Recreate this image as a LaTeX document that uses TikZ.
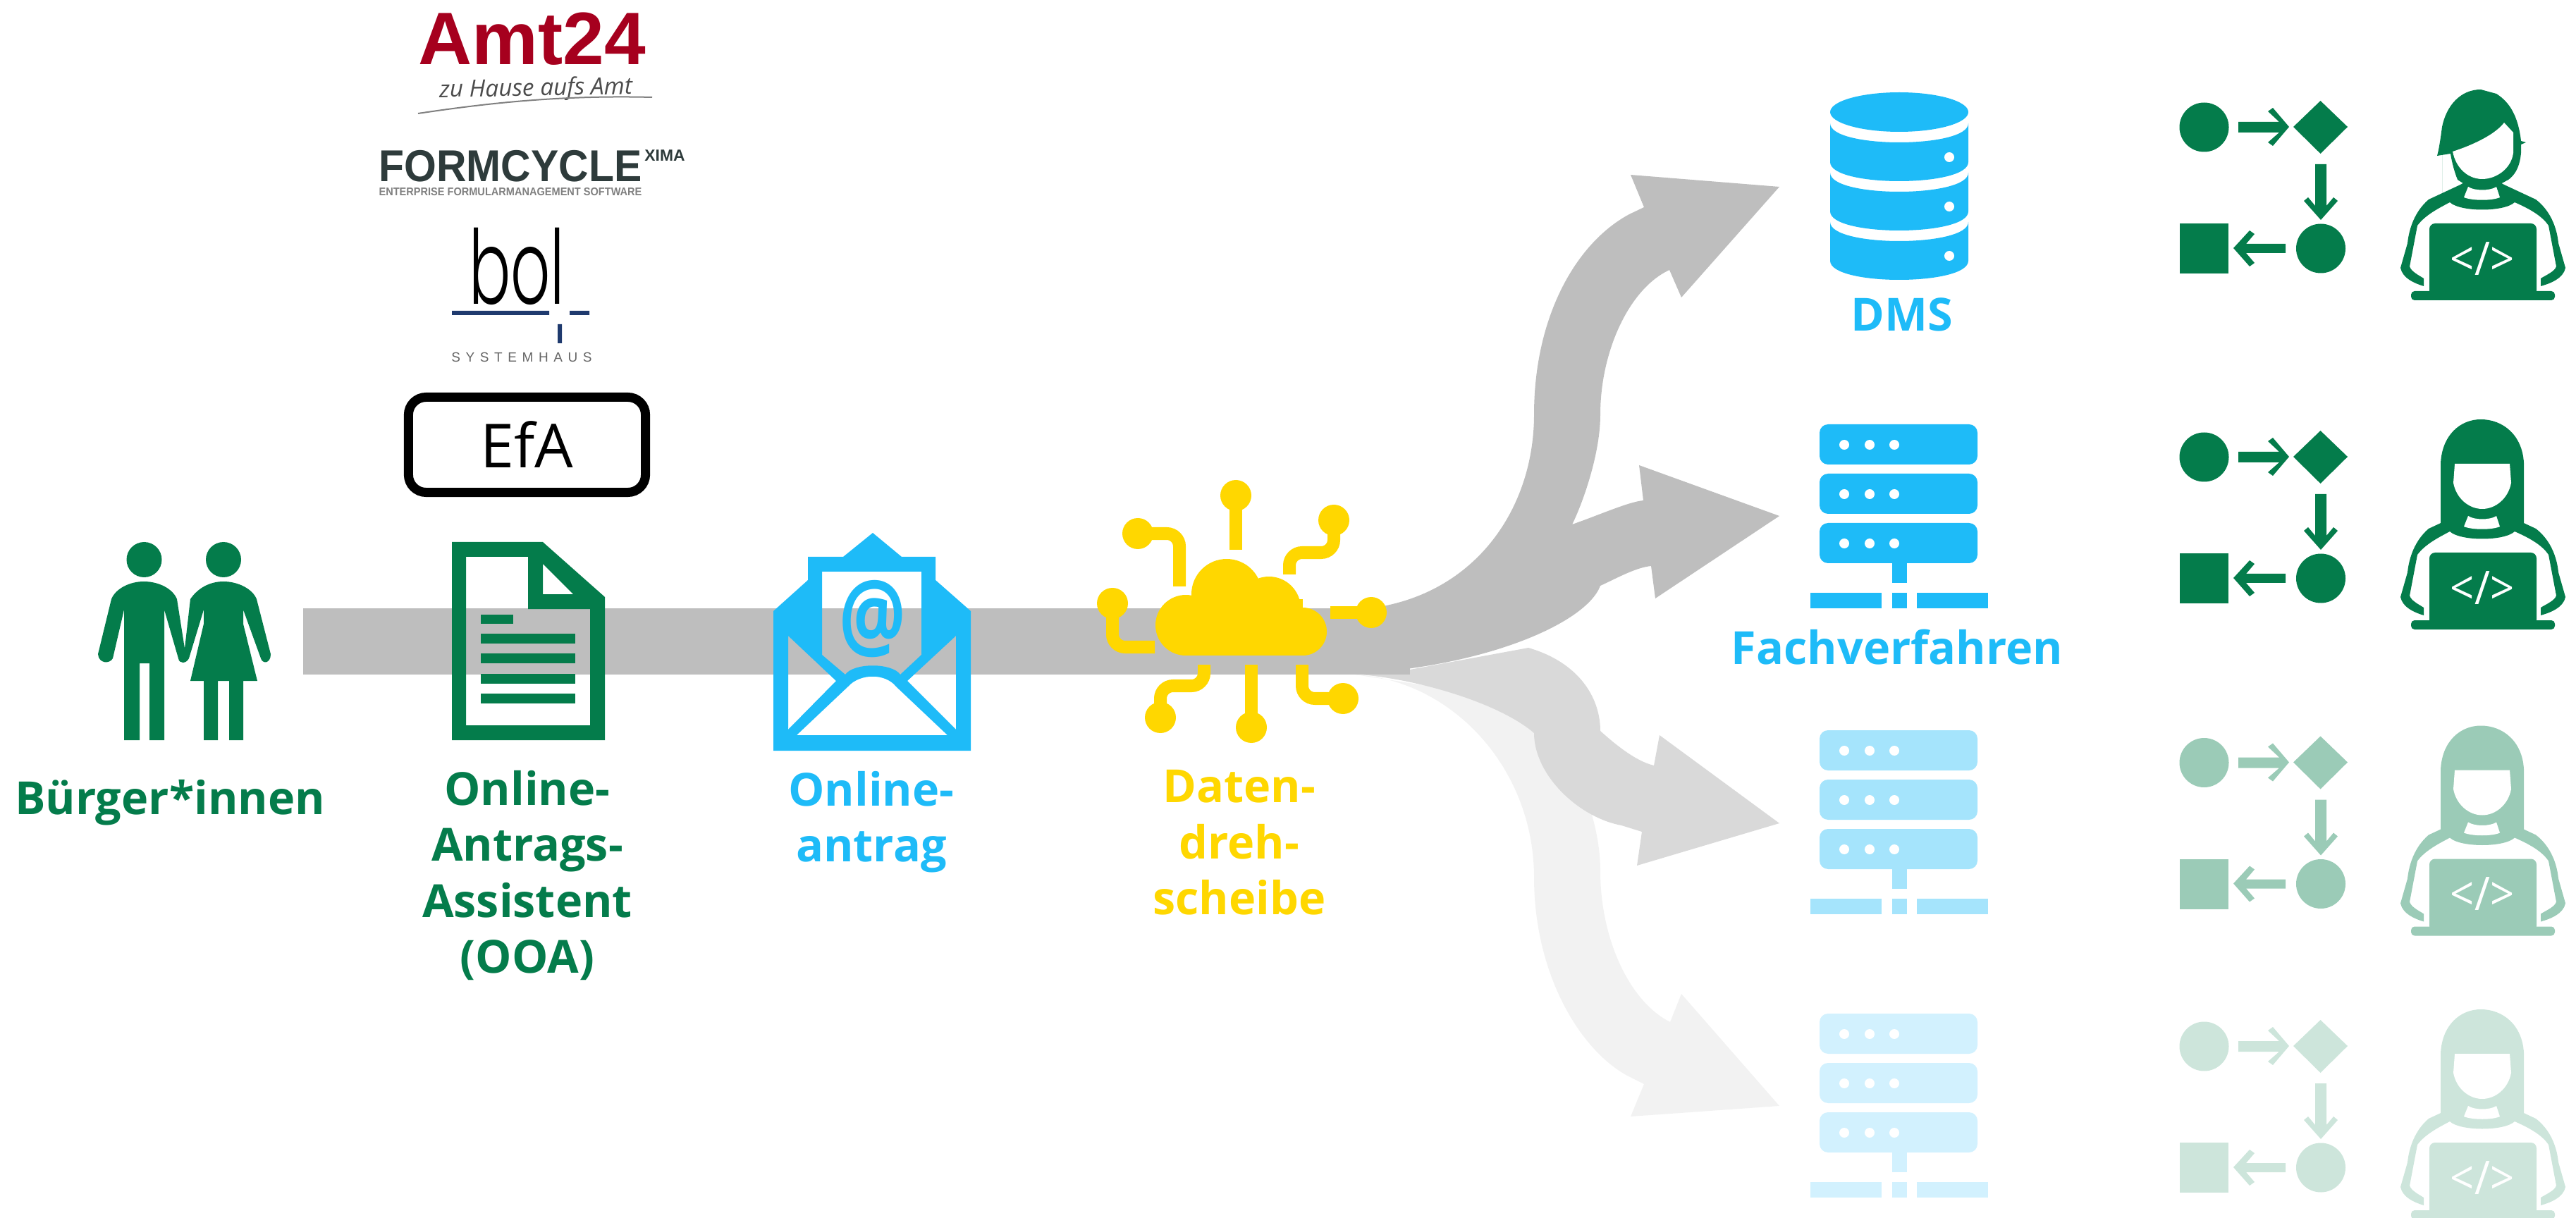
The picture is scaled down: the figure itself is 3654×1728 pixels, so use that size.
\documentclass[tikz,border=0pt]{standalone}
\usepackage{fontspec}
\setmainfont{Open Sans}
\newfontfamily\arialfont{Liberation Sans}
\newfontfamily\bolfont{Poppins Light}
\definecolor{gruen}{HTML}{047C4B}
\definecolor{blau}{HTML}{1EBBF8}
\definecolor{gelb}{HTML}{FFD700}
\definecolor{grau}{HTML}{BEBEBE}
\definecolor{rot}{HTML}{A6001E}
\definecolor{dunkel}{HTML}{2E3B3B}
\definecolor{marine}{HTML}{1F3A6E}
\tikzstyle{lbl}=[font=\fontsize{18.4}{22.5}\selectfont\bfseries,align=center,anchor=north,inner sep=0pt]
\tikzstyle{bein}=[draw=gelb,line width=.18cm,rounded corners=.18cm]

% server, #1 shift in y, #2 colour
\newcommand{\serverbox}[2]{
\begin{scope}[yshift=-#1*.01cm]
\foreach \t in {602,672,742} {
  \fill[#2,rounded corners=.12cm] (2581,\t) rectangle (2805,\t+57);
  \foreach \u in {2616,2652,2687} \fill[white] (\u,\t+29) circle[radius=7];
}
\fill[#2] (2684,799) rectangle (2705,827);
\fill[#2] (2568,841) rectangle (2669,863);
\fill[#2] (2684,841) rectangle (2705,863);
\fill[#2] (2719,841) rectangle (2820,863);
\end{scope}
}
% flow chart, #1 shift in y, #2 colour
\newcommand{\ablauf}[2]{
\begin{scope}[yshift=-#1*.01cm]
\fill[#2] (3126.5,180.5) circle[radius=35];
\fill[#2] (3253,180) -- (3291.5,143) -- (3330,180) -- (3291.5,218) -- cycle;
\fill[#2] (3292,352.5) circle[radius=35];
\fill[#2] (3092,317) rectangle (3161,388);
\fill[#2] (3175,173) -- (3233,173) -- (3217,158) -- (3224,153) -- (3247,180) -- (3224,207) -- (3217,202) -- (3233,188) -- (3175,188) -- cycle;
\fill[#2] (3284,233) -- (3300,233) -- (3300,292) -- (3310,280) -- (3316,285) -- (3292,312) -- (3268,285) -- (3274,280) -- (3284,292) -- cycle;
\fill[#2] (3242,346) -- (3186,346) -- (3198,332) -- (3191,327) -- (3168,352) -- (3191,378) -- (3198,373) -- (3186,359) -- (3242,359) -- cycle;
\end{scope}
}
% torso and laptop, #1 shift in y, #2 colour
\newcommand{\koerper}[2]{
\begin{scope}[yshift=-#1*.01cm]
\fill[#2] (3497,258) -- (3490,262) -- (3445,283) .. controls (3425,300) and (3417,325) .. (3415,345) -- (3405,380) .. controls (3408,395) and (3425,402) .. (3438,406) -- (3438,395) .. controls (3430,390) and (3420,385) .. (3418,378) -- (3429,320) .. controls (3440,305) and (3460,295) .. (3475,287) .. controls (3490,301) and (3552,301) .. (3567,287) .. controls (3585,295) and (3605,305) .. (3615,320) -- (3626,378) .. controls (3624,385) and (3612,390) .. (3604,395) -- (3604,406) .. controls (3618,402) and (3636,395) .. (3639,380) -- (3629,345) .. controls (3627,325) and (3619,300) .. (3597,283) -- (3552,262) -- (3545,258) -- cycle;
\fill[white] (3501,265) .. controls (3510,271) and (3532,271) .. (3541,265) -- (3546,280) .. controls (3535,285) and (3507,285) .. (3495,280) -- cycle;
\fill[#2,rounded corners=.08cm] (3446,317) rectangle (3598,420);
\fill[#2,rounded corners=.05cm] (3420,413) rectangle (3624,426);
\node[font=\fontsize{17}{17}\selectfont,yscale=1.1,text=white,inner sep=0pt] (code#1) at (3521,367) {</>};
\end{scope}
}
% long hair, #1 shift in y, #2 colour
\newcommand{\haare}[2]{
\begin{scope}[yshift=-#1*.01cm]
\fill[#2] (3462,280) -- (3462,190) .. controls (3464,150) and (3490,128) .. (3519,128) .. controls (3550,128) and (3578,150) .. (3580,190) -- (3580,280) -- (3560,285) -- (3545,262) -- (3497,262) -- (3482,285) -- cycle;
\fill[white] (3482,191) -- (3560,191) -- (3562,218) .. controls (3558,240) and (3540,255) .. (3521,255) .. controls (3502,255) and (3484,240) .. (3480,218) -- cycle;
\end{scope}
}

\begin{document}
\begin{tikzpicture}[x=.01cm,y=-.01cm]
\useasboundingbox (0,0) rectangle (3654,1728);
% grey flows
\fill[black!5] (1922,957) .. controls (2060,965) and (2176,1090) .. (2176,1245) .. controls (2176,1380) and (2240,1490) .. (2310,1527) -- (2332,1538) -- (2313,1584) -- (2524,1569) -- (2385,1410) -- (2369,1450) .. controls (2310,1420) and (2270,1330) .. (2270,1236) .. controls (2270,1200) and (2262,1170) .. (2257,1152) -- (2200,1000) -- cycle;
\fill[black!15] (2000,950) -- (2168,919) .. controls (2240,940) and (2270,990) .. (2270,1037) .. controls (2290,1055) and (2320,1080) .. (2346,1086) -- (2354,1043) -- (2524,1168) -- (2322,1228) -- (2329,1180) -- (2300,1171) .. controls (2240,1160) and (2176,1100) .. (2176,1040) .. controls (2130,1000) and (2020,965) .. (1930,957) -- cycle;
\fill[grau] (1950,862) .. controls (2095,840) and (2176,720) .. (2176,588) .. controls (2176,450) and (2235,345) .. (2311,304) -- (2332,294) -- (2313,248) -- (2524,265) -- (2385,422) -- (2368,383) .. controls (2310,410) and (2270,500) .. (2270,588) .. controls (2270,650) and (2240,725) .. (2230,744) .. controls (2270,730) and (2310,712) .. (2331,710) -- (2325,660) -- (2524,732) -- (2348,849) -- (2342,803) .. controls (2320,805) and (2290,822) .. (2270,831) .. controls (2250,885) and (2100,950) .. (1900,957) -- cycle;
\fill[grau] (430,863) rectangle (2000,957);
% citizens
\fill[gruen] (204.5,794) circle[radius=25] (317,794) circle[radius=25];
\fill[gruen] (204,825) .. controls (225,825) and (245,835) .. (251,850) -- (262,920) -- (270,850) .. controls (280,835) and (297,825) .. (317,825) .. controls (337,825) and (358,835) .. (364,850) -- (384,928) .. controls (384,942) and (372,942) .. (370,934) -- (345,865) -- (345,885) -- (365,966) -- (345,966) -- (345,1050) -- (325,1050) -- (325,966) -- (309,966) -- (309,1050) -- (289,1050) -- (289,966) -- (270,966) -- (289,885) -- (289,865) -- (268,934) .. controls (264,942) and (254,942) .. (253,934) -- (233,865) -- (233,1050) -- (212,1050) -- (212,941) -- (198,941) -- (198,1050) -- (176,1050) -- (176,865) -- (160,934) .. controls (156,942) and (140,942) .. (139,928) -- (158,850) .. controls (164,835) and (184,825) .. (204,825) -- cycle;
\node[lbl,text=gruen] (buerger) at (241,1106) {Bürger*innen};
% form
\fill[gruen,even odd rule] (641,769) -- (770,769) -- (858,847) -- (858,1050) -- (641,1050) -- cycle (661,790) -- (749,790) -- (749,864) -- (837,864) -- (837,1029) -- (661,1029) -- cycle (770,800) -- (770,843) -- (813,843) -- cycle;
\fill[gruen] (682,872) rectangle (728,885);
\foreach \z in {899,927,956,984} \fill[gruen] (682,\z) rectangle (816,\z+14);
\node[lbl,text=gruen] (ooa) at (748,1093) {Online-\\Antrags-\\Assistent\\(OOA)};
% mail
\fill[blau,even odd rule] (1238,756) -- (1279,790) -- (1327,790) -- (1327,823) -- (1377,867) -- (1377,1065) -- (1097,1065) -- (1097,867) -- (1146,823) -- (1146,790) -- (1196,790) -- cycle
 (1166,811) -- (1307,811) -- (1307,929) -- (1277,957) .. controls (1265,940) and (1211,940) .. (1199,957) -- (1166,929) -- cycle
 (1118,902) -- (1186,966) -- (1118,1035) -- cycle (1356,902) -- (1287,966) -- (1356,1035) -- cycle
 (1130,1043) -- (1203,974) .. controls (1220,955) and (1256,955) .. (1271,974) -- (1344,1043) -- cycle;
\node[text=blau,font=\fontsize{30}{30}\selectfont\bfseries,yscale=1.3,inner sep=0pt] (at) at (1238,878) {@};
\node[lbl,text=blau] (antrag) at (1236,1094) {Online-\\antrag};
% hub
\fill[gelb] (1682,887) circle[radius=43] (1740,843) circle[radius=50] (1800,863) circle[radius=45] (1848,896) circle[radius=34];
\fill[gelb] (1682,850) rectangle (1848,930);
\fill[gelb] (1753,703) circle[radius=22] (1892,738) circle[radius=22] (1614,757) circle[radius=22] (1578,856) circle[radius=22] (1945,869) circle[radius=22] (1646,1018) circle[radius=22] (1775,1032) circle[radius=22] (1905,991) circle[radius=22];
\draw[bein] (1753,703) -- (1753,780);
\draw[bein] (1892,738) -- (1892,784) -- (1829,784) -- (1829,815);
\draw[bein] (1614,757) -- (1673,757) -- (1673,832);
\draw[bein] (1578,856) -- (1578,918) -- (1638,918);
\draw[bein] (1945,869) -- (1887,869);
\draw[bein] (1646,1018) -- (1646,973) -- (1708,973) -- (1708,943);
\draw[bein] (1775,1032) -- (1775,943);
\draw[bein] (1905,991) -- (1847,991) -- (1847,943);
\node[lbl,text=gelb] (dreh) at (1758,1092) {Daten-\\dreh-\\scheibe};
% logos
\node[text=rot,font=\fontsize{30}{30}\arialfont\bfseries,inner sep=0pt,anchor=base] (amt) at (755,92) {Amt24};
\node[text=black!70,font=\fontsize{9.5}{10}\rmfamily\itshape,rotate=1,inner sep=0pt] (zuhause) at (760,127) {zu Hause aufs Amt};
\draw[black!50,line width=.02cm] (593,161) .. controls (700,145) and (800,135) .. (925,138);
\node[text=dunkel,font=\fontsize{18}{18}\arialfont\bfseries,xscale=.93,inner sep=0pt] (form) at (724,236) {FORMCYCLE};
\node[text=dunkel,font=\fontsize{6.5}{7}\arialfont\bfseries,inner sep=0pt] (xima) at (943,221) {XIMA};
\node[text=black!50,font=\fontsize{4.5}{5}\arialfont\bfseries,xscale=.92,inner sep=0pt] (enterprise) at (724,272) {ENTERPRISE FORMULARMANAGEMENT SOFTWARE};
\node[text=black,font=\fontsize{41.6}{42}\bolfont,xscale=.6,inner sep=0pt,anchor=base] (bol) at (733,432) {bol};
\fill[marine] (641,441) rectangle (779,447) (808,441) rectangle (836,447) (791,460) rectangle (797,487);
\node[text=black!60,font=\fontsize{5.4}{6}\arialfont\addfontfeature{LetterSpace=40},inner sep=0pt] (sys) at (740,507) {SYSTEMHAUS};
\node[draw=black,line width=.13cm,rounded corners=.25cm,minimum width=3.36cm,minimum height=1.35cm,font=\fontsize{24.5}{24.5}\selectfont] (efa) at (747.5,631) {EfA};
% database
\fill[blau] (2694,159) ellipse[x radius=98,y radius=28];
\foreach \t/\u in {175/223,245/293,315/363} {
  \fill[blau] (2596,\t) .. controls (2596,\t+36) and (2792,\t+36) .. (2792,\t) -- (2792,\t+55) .. controls (2792,\t+91) and (2596,\t+91) .. (2596,\t+55) -- cycle;
  \fill[white] (2765,\u) circle[radius=7];
}
\node[lbl,text=blau] (dms) at (2698,422) {DMS};
% servers
\serverbox{0}{blau}
\serverbox{434}{blau!40}
\serverbox{836}{blau!20}
\node[lbl,text=blau] (fach) at (2691,892) {Fachverfahren};
% flow charts and developers
\ablauf{0}{gruen}
\ablauf{468}{gruen}
\ablauf{901.5}{gruen!40}
\ablauf{1304}{gruen!20}
\fill[gruen] (3464,275) -- (3464,180) .. controls (3470,150) and (3490,127) .. (3519,127) -- (3541,133) .. controls (3560,145) and (3572,165) .. (3576,200) -- (3583,202) -- (3576,205) -- (3576,217) .. controls (3574,240) and (3565,250) .. (3558,255) -- (3545,262) -- (3497,262) -- (3486,255) .. controls (3480,240) and (3477,225) .. (3476,218) -- (3457,221) .. controls (3460,210) and (3462,195) .. (3464,180) -- cycle;
\fill[white] (3479,215) .. controls (3510,205) and (3540,190) .. (3552,174) -- (3565,188) -- (3565,217) .. controls (3562,240) and (3540,254) .. (3521,254) .. controls (3502,254) and (3484,240) .. (3479,215) -- cycle;
\koerper{0}{gruen}
\haare{467}{gruen}
\koerper{467}{gruen}
\haare{901.5}{gruen!40}
\koerper{901.5}{gruen!40}
\haare{1304}{gruen!20}
\koerper{1304}{gruen!20}
\end{tikzpicture}
\end{document}
